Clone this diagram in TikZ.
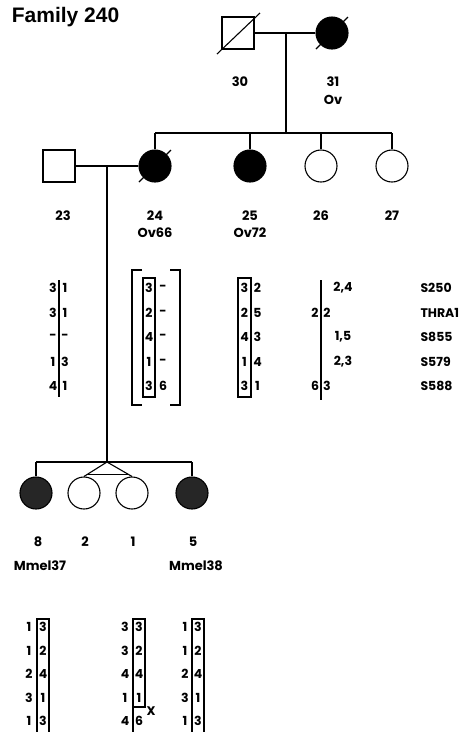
\documentclass[tikz,border=0pt]{standalone}
\usepackage{fontspec}
\newfontfamily\pedfont{Poppins}
\newfontfamily\titlefont{Liberation Sans}
\usetikzlibrary{calc}
\usetikzlibrary{positioning}

\tikzset{
  male/.style={draw, rectangle, minimum size=32pt, inner sep=0pt},
  female/.style={draw, circle, minimum size=32pt, inner sep=0pt},
  affected/.style={fill=black},
  stippled/.style={fill=black!85},
  idlab/.style={font=\pedfont\bfseries\fontsize{13}{13}\selectfont, inner sep=0pt},
  hap/.style={font=\pedfont\bfseries\fontsize{12.5}{13}\selectfont, inner sep=0pt}
}

\begin{document}
\begin{tikzpicture}[x=1pt, y=-1pt, line width=1.1pt]
		\useasboundingbox (0,0) rectangle (470,732);
		\node[anchor=west, font=\titlefont\bfseries\fontsize{21}{21}\selectfont] (title) at (8,17) {Family 240};

		% generation I
		\node[male] (i30) at (238,33) {};
		\node[female,affected] (i31) at (332,33) {};
		\draw (i30) -- (i31);
		\draw ($(i30)+(-21,21)$) -- ($(i30)+(22,-20)$);
		\draw ($(i31)+(-16,16)$) -- ($(i31)+(16,-16)$);
		\coordinate (m1) at (286,33);
		\coordinate (s1) at (286,133);
		\draw (m1) -- (s1);
		\node[idlab] (l30) at (240,82) {30};
		\node[idlab] (l31) at (333,82) {31};
		\node[idlab] (d31) at (333,100) {Ov};

		% generation II
		\node[male] (i23) at (59,166) {};
		\node[female,affected] (i24) at (155,166) {};
		\node[female,affected] (i25) at (250,166) {};
		\node[female] (i26) at (321,166) {};
		\node[female] (i27) at (392,166) {};
		\draw (i24 |- s1) -- (i27 |- s1);
		\draw (i24 |- s1) -- (i24);
		\draw (i25 |- s1) -- (i25);
		\draw (i26 |- s1) -- (i26);
		\draw (i27 |- s1) -- (i27);
		\draw ($(i24)+(-16,16)$) -- ($(i24)+(16,-16)$);
		\draw (i23) -- (i24);
		\coordinate (m2) at (107,166);
		\coordinate (s2) at (107,462);
		\draw (m2) -- (s2);
		\node[idlab] (l23) at (63,216) {23};
		\node[idlab] (l24) at (155,216) {24};
		\node[idlab] (l25) at (250,216) {25};
		\node[idlab] (l26) at (321,216) {26};
		\node[idlab] (l27) at (392,216) {27};
		\node[idlab] (d24) at (155,233) {Ov66};
		\node[idlab] (d25) at (250,233) {Ov72};

		% haplotypes, generation II
		\foreach \a/\b [count=\r] in {3/1,3/1,-/-,1/3,4/1} {
			\node[hap] (h23a\r) at (53,288+24.5*\r-24.5) {\a};
			\node[hap] (h23b\r) at (65,288+24.5*\r-24.5) {\b};
		}
		\draw (59,280) -- (59,397);
		\foreach \a/\b [count=\r] in {3/-,2/-,4/-,1/-,3/6} {
			\node[hap] (h24a\r) at (149,288+24.5*\r-24.5) {\a};
			\node[hap] (h24b\r) at (163,288+24.5*\r-24.5) {\b};
		}
		\draw (143,278) rectangle (155,397);
		\draw (142,270) -- (132,270) -- (132,405) -- (142,405);
		\draw (170,270) -- (180,270) -- (180,405) -- (170,405);
		\foreach \a/\b [count=\r] in {3/2,2/5,4/3,1/4,3/1} {
			\node[hap] (h25a\r) at (244.5,288+24.5*\r-24.5) {\a};
			\node[hap] (h25b\r) at (257.5,288+24.5*\r-24.5) {\b};
		}
		\draw (238,278) rectangle (251,397);
		\draw (321,280) -- (321,400);
		\node[hap] (h26a2) at (315,312.5) {2};
		\node[hap] (h26b2) at (327,312.5) {2};
		\node[hap] (h26a5) at (315,386) {6};
		\node[hap] (h26b5) at (327,386) {3};
		\node[hap] (h26c1) at (343,288) {2,4};
		\node[hap] (h26c3) at (343,337) {1,5};
		\node[hap] (h26c4) at (343,361.5) {2,3};
		\foreach \m [count=\r] in {S250,THRA1,S855,S579,S588}
			\node[hap, anchor=west] (mk\r) at (420,288+24.5*\r-24.5) {\m};

		% generation III
		\node[female,stippled] (i8) at (36,493) {};
		\node[female] (i2) at (84,493) {};
		\node[female] (i1) at (132,493) {};
		\node[female,stippled] (i5) at (192,493) {};
		\draw (i8 |- s2) -- (i5 |- s2);
		\draw (i8 |- s2) -- (i8);
		\draw (i5 |- s2) -- (i5);
		\draw (i2.north) -- (s2) -- (i1.north);
		\draw ($(s2)!0.85!(i2.north)$) -- ($(s2)!0.85!(i1.north)$);
		\node[idlab] (l8) at (38,542) {8};
		\node[idlab] (l2) at (85,542) {2};
		\node[idlab] (l1) at (133,542) {1};
		\node[idlab] (l5) at (193,542) {5};
		\node[idlab] (d8) at (40,566) {Mmel37};
		\node[idlab] (d5) at (196,566) {Mmel38};

		% haplotypes, generation III
		\foreach \a/\b [count=\r] in {1/3,1/2,2/4,3/1,1/3} {
			\node[hap] (h8a\r) at (29,627+23.5*\r-23.5) {\a};
			\node[hap] (h8b\r) at (43,627+23.5*\r-23.5) {\b};
		}
		\draw (37,745) -- (37,619) -- (49,619) -- (49,745);
		\foreach \a/\b [count=\r] in {3/3,3/2,4/4,1/1,4/6} {
			\node[hap] (h2a\r) at (125,627+23.5*\r-23.5) {\a};
			\node[hap] (h2b\r) at (139,627+23.5*\r-23.5) {\b};
		}
		\draw (133,619) rectangle (145,707);
		\draw (133,707) -- (133,745);
		\node[hap] (xo) at (151,711) {X};
		\foreach \a/\b [count=\r] in {1/3,1/2,2/4,3/1,1/3} {
			\node[hap] (h1a\r) at (185,627+23.5*\r-23.5) {\a};
			\node[hap] (h1b\r) at (198,627+23.5*\r-23.5) {\b};
		}
		\draw (192,745) -- (192,619) -- (204,619) -- (204,745);
	\end{tikzpicture}
\end{document}
